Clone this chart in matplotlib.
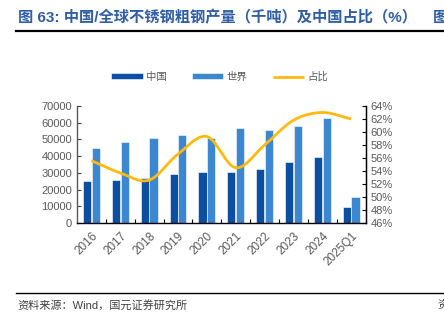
import numpy as np
import matplotlib.pyplot as plt
from matplotlib.ticker import MultipleLocator, FuncFormatter

plt.rcParams['font.family'] = ['Liberation Sans', 'Noto Sans CJK SC', 'DejaVu Sans']

years = ['2016', '2017', '2018', '2019', '2020', '2021', '2022', '2023', '2024', '2025Q1']
china = [25100, 26000, 26900, 29500, 30300, 30700, 32100, 36300, 39700, 9600]
world = [45100, 48300, 51000, 52400, 51000, 56600, 55600, 58200, 63000, 15800]
share = [55.6, 53.7, 52.6, 56.6, 59.3, 54.5, 58.0, 61.8, 63.0, 62.0]


def smooth(x, y, steps=30):
    # catmull-rom curve through the points, like excel's smoothed line
    x = np.asarray(x, float)
    y = np.asarray(y, float)
    px = np.concatenate([[2 * x[0] - x[1]], x, [2 * x[-1] - x[-2]]])
    py = np.concatenate([[2 * y[0] - y[1]], y, [2 * y[-1] - y[-2]]])
    xs, ys = [], []
    t = np.linspace(0, 1, steps)
    for i in range(1, len(px) - 2):
        for p, out in ((px, xs), (py, ys)):
            p0, p1, p2, p3 = p[i - 1], p[i], p[i + 1], p[i + 2]
            out.extend(0.5 * (2 * p1 + (-p0 + p2) * t
                              + (2 * p0 - 5 * p1 + 4 * p2 - p3) * t ** 2
                              + (-p0 + 3 * p1 - 3 * p2 + p3) * t ** 3))
    return np.array(xs), np.array(ys)


fig = plt.figure(figsize=(4.44, 3.21), dpi=100)
ax = fig.add_axes([0.1734, 0.3053, 0.650, 0.3645])
ax2 = ax.twinx()

x = np.arange(len(years))
w = 0.28
ax.bar(x - w / 2 - 0.01, china, w, color='#0B4EA2', edgecolor='white', linewidth=0.4, label='中国', zorder=2)
ax.bar(x + w / 2 + 0.01, world, w, color='#3B87D0', edgecolor='white', linewidth=0.4, label='世界', zorder=2)
sx, sy = smooth(x, share)
ax2.plot(sx, sy, color='#FFB90F', linewidth=2.0, label='占比', solid_capstyle='butt')

ax.set_xlim(-0.5, len(years) - 0.5)
ax.set_ylim(0, 70000)
ax.yaxis.set_major_locator(MultipleLocator(10000))
ax2.set_ylim(46, 64)
ax2.yaxis.set_major_locator(MultipleLocator(2))
ax2.yaxis.set_major_formatter(FuncFormatter(lambda v, p: '%d%%' % v))

ax.set_xticks(x)
ax.set_xticks(x[:-1] + 0.5, minor=True)
ax.set_xticklabels(years, rotation=45, ha='right', rotation_mode='anchor')
ax.tick_params(axis='x', which='major', length=0, pad=5, labelsize=8.5, labelcolor='#595959')
ax.tick_params(axis='x', which='minor', direction='in', length=3, width=0.8, color='black')
ax.tick_params(axis='y', direction='in', length=3, width=0.8, labelsize=8, labelcolor='#595959', color='#404040')
ax2.tick_params(axis='y', direction='in', length=3, width=0.8, labelsize=8, labelcolor='#595959', color='black')

for a in (ax, ax2):
    a.spines['top'].set_visible(False)
ax.spines['bottom'].set_color('black')
ax.spines['left'].set_color('#595959')
ax2.spines['right'].set_color('black')
ax2.spines['left'].set_visible(False)
ax2.spines['bottom'].set_visible(False)
for s in ('bottom', 'left'):
    ax.spines[s].set_linewidth(1.0)
ax2.spines['right'].set_linewidth(1.0)

h1, l1 = ax.get_legend_handles_labels()
h2, l2 = ax2.get_legend_handles_labels()
fig.legend(h1 + h2, l1 + l2, loc='center', bbox_to_anchor=(0.495, 0.76), ncol=3, frameon=False,
           fontsize=7.5, handlelength=3.0, handleheight=0.5, columnspacing=2.4, handletextpad=0.35,
           labelcolor='#595959')

# header and footer
fig.text(0.04, 0.945, '图 63: 中国/全球不锈钢粗钢产量（千吨）及中国占比（%）', fontsize=11,
         fontweight='bold', color='#2F5DA6', va='center')
fig.text(0.975, 0.945, '图', fontsize=11, fontweight='bold', color='#2F5DA6', va='center')
fig.add_artist(plt.Line2D([0.036, 1.0], [0.903, 0.903], color='black', linewidth=1.6))
fig.add_artist(plt.Line2D([0.036, 1.0], [0.087, 0.087], color='black', linewidth=1.0))
fig.text(0.04, 0.048, '资料来源：Wind，国元证券研究所', fontsize=8, color='#404040', va='center')
fig.text(0.985, 0.048, '资', fontsize=8, color='#404040', va='center')

plt.savefig('out.png', dpi=100)
